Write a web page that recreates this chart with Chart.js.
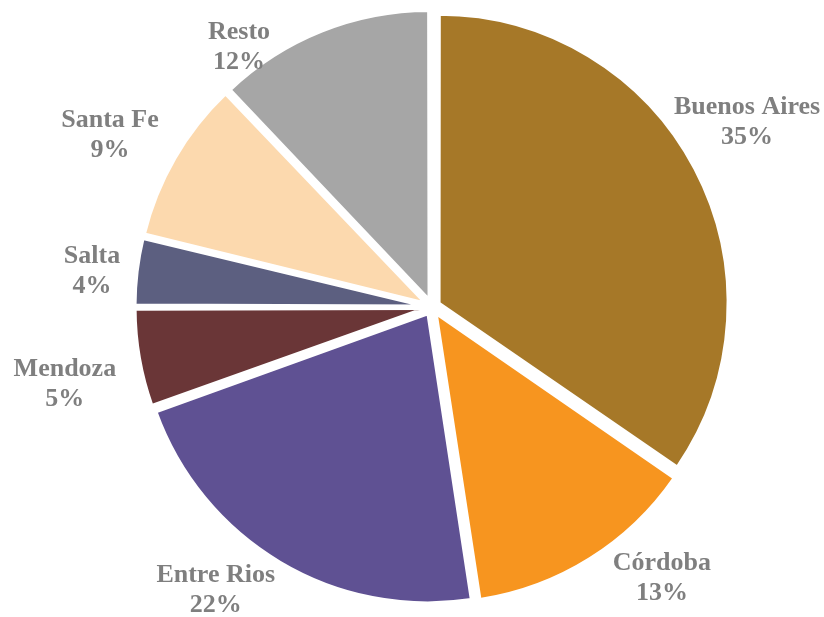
<!DOCTYPE html>
<html><head><meta charset="utf-8">
<script src="https://cdn.jsdelivr.net/npm/chart.js@4/dist/chart.umd.min.js"></script>
<style>html,body{margin:0;padding:0;background:#fff;overflow:hidden}#wrap{width:824px;height:617px;position:relative}</style>
</head><body><div id="wrap"><canvas id="c" width="824" height="617"></canvas></div>
<script>
const categories = ['Buenos Aires', 'Córdoba', 'Entre Rios', 'Mendoza', 'Salta', 'Santa Fe', 'Resto'];
const shares = [34.6, 13.0, 21.9, 5.5, 3.8, 9.1, 12.1];
const percentLabels = ['35%', '13%', '22%', '5%', '4%', '9%', '12%'];
const sliceColors = ['#A67828', '#F7951F', '#5F5193', '#6A3637', '#5C5F80', '#FCD9AE', '#A6A6A6'];
// label placement: [angle in degrees clockwise from top, distance as multiple of outer radius]
const labelPlacement = [[59.6, 1.264], [139.7, 1.23], [217.4, 1.232], [258.15, 1.298], [276.0, 1.183], [298.0, 1.262], [323.4, 1.12]];
const EXPLODE = 32; // Chart.js arc offset (translates by offset/4 px)

// keep every exploded slice at the same visible radius (Chart.js grows narrow slices by the offset)
const equalRadiusPlugin = {
  id: 'equalRadius',
  afterDatasetUpdate(chart, args) {
    const meta = chart.getDatasetMeta(args.index);
    meta.data.forEach(el => {
      const shift = EXPLODE / 4;
      const fix = 1 - Math.sin(Math.min(Math.PI, el.circumference || 0));
      el.outerRadius = el.outerRadius - shift * fix;
    });
  }
};

const labelPlugin = {
  id: 'outsideLabels',
  afterDatasetsDraw(chart) {
    const ctx = chart.ctx;
    const meta = chart.getDatasetMeta(0);
    const R = meta.controller.outerRadius;
    ctx.save();
    ctx.font = 'bold 26px "Liberation Serif", "Times New Roman", serif';
    ctx.fillStyle = '#7F7F7F';
    ctx.textAlign = 'center';
    ctx.textBaseline = 'middle';
    meta.data.forEach((arc, i) => {
      const a = labelPlacement[i][0] * Math.PI / 180;
      const d = R * labelPlacement[i][1];
      const px = arc.x + Math.sin(a) * d;
      const py = arc.y - Math.cos(a) * d;
      ctx.fillText(categories[i], px, py - 15);
      ctx.fillText(percentLabels[i], px, py + 15);
    });
    ctx.restore();
  }
};

new Chart(document.getElementById('c'), {
  type: 'pie',
  data: {
    labels: categories,
    datasets: [{
      data: shares,
      backgroundColor: sliceColors,
      borderColor: '#FFFFFF',
      borderWidth: 3,
      offset: EXPLODE
    }]
  },
  options: {
    responsive: false,
    animation: false,
    radius: 289,
    layout: { padding: { left: 40, bottom: 3 } },
    plugins: { legend: { display: false }, tooltip: { enabled: false } }
  },
  plugins: [equalRadiusPlugin, labelPlugin]
});
</script>
</body></html>
